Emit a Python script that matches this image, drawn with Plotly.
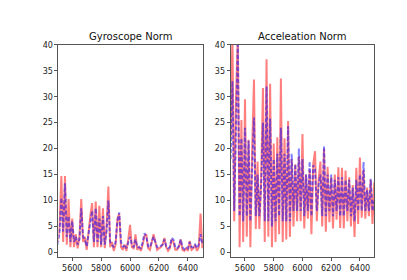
import numpy as np
import plotly.graph_objects as go
from plotly.subplots import make_subplots

# sample index (time axis)
x_idx = np.arange(5500, 6500.1, 12.5)

gyro_true = [2, 5, 14.7, 2, 14.7, 1.5, 10.3, 1, 6.5, 1, 3.5, 0.8, 3, 10.3, 2, 3, 0.5, 4, 7, 9.5,
             1, 9.8, 1, 9, 1, 8.5, 0.8, 5, 12.7, 1, 2, 0.3, 1.5, 6.5, 7.5, 1, 0.5, 1.5, 0.3, 2.5,
             5.3, 1, 0.8, 3.5, 0.5, 1, 0.3, 1.5, 3.2, 3.5, 0.8, 0.5, 2, 3.5, 2, 0.5, 0.8, 1, 1.5, 2.8,
             1, 0.3, 0.8, 2.5, 2, 0.5, 0.5, 1, 2.5, 0.5, 0.3, 0.8, 0.3, 2.2, 0.5, 0.8, 1.5, 0.3, 1, 7.5,
             0.8]
gyro_pred = [1.5, 4, 10.5, 4, 13.3, 3, 7, 2, 6, 2, 3, 1.5, 2.5, 8.5, 3, 2.5, 1.2, 3.5, 6, 8,
             2, 8.5, 2, 6.5, 1.5, 7, 1.5, 4, 10, 2, 1.5, 1, 2, 6, 7.7, 2, 1, 1.5, 0.8, 2,
             3, 1.5, 1, 2.5, 1, 1, 0.8, 2, 3.7, 3, 1.2, 1, 2, 3, 2, 1, 1, 1.2, 1.5, 2.5,
             1.2, 0.8, 1, 2.8, 2.5, 1, 0.8, 1.2, 2.5, 1, 0.6, 1, 0.8, 2, 1, 1, 1.5, 0.8, 1.5, 3.5,
             1.5]
acc_true = [22, 42, 6, 30, 42, 1, 25.5, 2, 29.5, 3, 21.7, 1, 20, 33.3, 4.5, 17.5, 4.5, 14, 31.7, 2,
            37.2, 3, 32.5, 1, 21, 2, 22.2, 3.5, 33.5, 2, 22, 2.5, 25.3, 3, 18, 5, 17, 6, 18.5, 6,
            22.8, 4.6, 15, 6.5, 16, 3.5, 17, 19.5, 6, 14, 17.5, 5, 20, 4, 16.5, 5.8, 14.5, 4.6, 15, 6.3,
            16.4, 4.7, 16.3, 4.6, 15.8, 6, 14.5, 5, 13, 3, 16.3, 5.5, 18.3, 6.7, 15.9, 6.5, 12.5, 7, 14, 5.5,
            13.5]
acc_pred = [18, 33, 8, 25, 40, 7, 22, 6, 24, 7, 21.5, 6, 18, 26, 7, 15, 7, 13, 25, 6,
            32, 6, 25.8, 5, 18, 6, 19, 7, 24, 6, 19, 6, 24.3, 6, 19, 8, 17, 8, 20, 8,
            18, 7, 15, 8, 17.5, 7, 16.8, 16, 8, 13, 15, 7, 20.5, 7, 15, 8, 15, 7, 14, 8,
            14.5, 7, 14.5, 7, 14, 8, 14, 7, 12.5, 6, 14, 8, 15, 8, 17.4, 8, 12, 8, 14.2, 8,
            10]

titles = ["Gyroscope Norm", "Acceleation Norm"]
x_ticks = [5600, 5800, 6000, 6200, 6400]
y_ticks = [0, 5, 10, 15, 20, 25, 30, 35, 40]

fig = make_subplots(rows=1, cols=2)

red = "rgba(255,0,0,0.5)"
blue = "rgba(0,0,255,0.5)"

for col, (yt, yp) in enumerate([(gyro_true, gyro_pred), (acc_true, acc_pred)], start=1):
    fig.add_trace(go.Scatter(x=x_idx, y=yt, mode="lines",
                             line=dict(color=red, width=2), showlegend=False), row=1, col=col)
    fig.add_trace(go.Scatter(x=x_idx, y=yp, mode="lines",
                             line=dict(color=blue, width=2, dash="4px,2px"), showlegend=False), row=1, col=col)

ax_common = dict(showgrid=False, zeroline=False, showline=True, mirror=True,
                 linecolor="#555555", linewidth=1, ticks="outside", ticklen=3,
                 tickcolor="#555555", tickfont=dict(family="DejaVu Sans", size=8, color="#222222"))

fig.update_xaxes(**ax_common, tickvals=x_ticks)
fig.update_yaxes(**ax_common, tickvals=y_ticks, range=[-0.9, 40])
fig.update_layout(
    xaxis=dict(domain=[0.124, 0.479], range=[5505, 6504]),
    xaxis2=dict(domain=[0.547, 0.900], range=[5500, 6500]),
    yaxis=dict(domain=[0.112, 0.881]),
    yaxis2=dict(domain=[0.112, 0.881]),
    width=407, height=280,
    margin=dict(l=0, r=0, t=0, b=0),
    paper_bgcolor="white", plot_bgcolor="white",
)

for i, t in enumerate(titles):
    xd = fig.layout["xaxis" if i == 0 else "xaxis2"].domain
    fig.add_annotation(text=t, x=(xd[0] + xd[1]) / 2, y=0.885, xref="paper", yref="paper",
                       xanchor="center", yanchor="bottom", showarrow=False,
                       font=dict(family="DejaVu Sans", size=10, color="#111111"))

fig.write_html("out.html")
